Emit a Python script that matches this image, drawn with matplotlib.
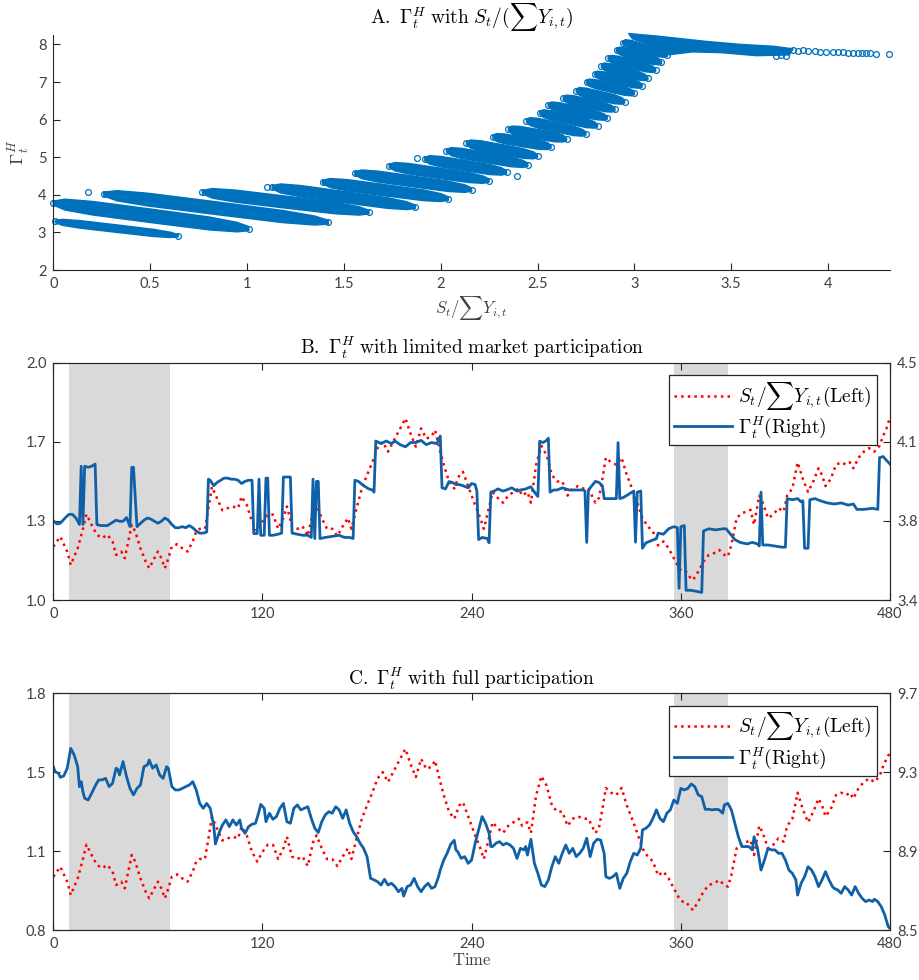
import matplotlib
matplotlib.use("Agg")
import matplotlib.pyplot as plt
import numpy as np
from matplotlib.ticker import FormatStrFormatter

plt.rcParams['mathtext.fontset'] = 'cm'
plt.rcParams['font.family'] = ['Lato', 'DejaVu Sans']

# ---- Panel A: Gamma against S/sum(Y); each dense band given by its two ends and thickness
band_x0 = [0.01, 0.00, 0.26, 0.77, 1.13, 1.39, 1.557, 1.734, 1.918, 2.03, 2.133, 2.27,
           2.35, 2.443, 2.512, 2.555, 2.633, 2.70, 2.753, 2.796, 2.83, 2.865, 2.908, 2.94]
band_y0 = [3.29, 3.78, 4.02, 4.07, 4.20, 4.34, 4.57, 4.77, 4.95, 5.17, 5.37, 5.54,
           5.74, 5.97, 6.18, 6.39, 6.57, 6.77, 7.00, 7.21, 7.43, 7.63, 7.85, 8.05]
band_x1 = [0.645, 1.01, 1.42, 1.63, 1.87, 2.04, 2.16, 2.25, 2.34, 2.45, 2.50, 2.57,
           2.65, 2.75, 2.81, 2.86, 2.90, 2.95, 3.00, 3.04, 3.07, 3.11, 3.14, 3.17]
band_y1 = [2.91, 3.10, 3.27, 3.54, 3.68, 3.90, 4.14, 4.38, 4.60, 4.80, 5.03, 5.28,
           5.48, 5.63, 5.84, 6.05, 6.27, 6.48, 6.70, 6.90, 7.10, 7.32, 7.52, 7.72]
band_w = [0.20, 0.36, 0.34, 0.32, 0.30, 0.30, 0.29, 0.28, 0.28, 0.27, 0.27, 0.26,
          0.26, 0.26, 0.25, 0.25, 0.25, 0.25, 0.24, 0.24, 0.24, 0.24, 0.24, 0.24]

# flat cluster above S/Y = 3
plateau_x = [2.97, 3.12, 3.37, 3.55, 3.72, 3.82, 3.80, 3.63, 3.45, 3.30, 3.17, 3.10, 2.99]
plateau_y = [8.29, 8.22, 8.08, 8.00, 7.95, 7.88, 7.72, 7.70, 7.78, 7.80, 7.72, 7.95, 8.15]

# isolated observations
loose_x = [0.181, 1.101, 1.88, 2.395, 3.733, 3.759, 3.785, 3.819, 3.845, 3.871, 3.897, 3.931,
           3.957, 3.991, 4.026, 4.052, 4.078, 4.103, 4.129, 4.155, 4.178, 4.198, 4.219, 4.25, 4.313]
loose_y = [4.07, 4.20, 4.99, 4.51, 7.70, 7.719, 7.692, 7.851, 7.833, 7.851, 7.824, 7.824,
           7.807, 7.807, 7.798, 7.789, 7.789, 7.78, 7.78, 7.78, 7.78, 7.771, 7.762, 7.754, 7.745]

# ---- Panels B and C: monthly series
shade_periods = [(9, 67), (356, 387)]

ratio_t = [0, 4, 8, 10, 14, 17, 19, 22, 25, 28, 31, 34, 36, 39, 41, 43, 45, 47, 50, 53, 55, 57,
           60, 62, 64, 66, 68, 71, 74, 77, 80, 82, 84, 87, 89, 91, 94, 97, 100, 103, 106, 108,
           111, 114, 117, 120, 123, 126, 129, 132, 134, 137, 140, 143, 146, 149, 151, 154, 157,
           160, 163, 166, 169, 171, 174, 177, 180, 183, 186, 189, 192, 195, 198, 202, 205, 208,
           211, 214, 217, 219, 222, 224, 227, 230, 233, 235, 238, 240, 242, 245, 247, 249, 252,
           255, 258, 261, 264, 267, 269, 272, 274, 277, 280, 283, 286, 289, 292, 295, 298, 301,
           304, 307, 309, 311, 313, 315, 317, 320, 323, 326, 329, 332, 335, 338, 341, 344, 347,
           350, 353, 356, 359, 361, 363, 365, 367, 370, 373, 376, 379, 382, 385, 387, 389, 392,
           395, 398, 400, 402, 405, 407, 410, 413, 416, 419, 421, 424, 427, 430, 433, 436, 439,
           441, 443, 446, 449, 452, 455, 457, 459, 462, 465, 468, 471, 474, 476, 478, 480]

ratio_b = [1.225, 1.267, 1.204, 1.148, 1.218, 1.30, 1.361, 1.317, 1.275, 1.261, 1.275, 1.247,
           1.19, 1.204, 1.176, 1.247, 1.317, 1.289, 1.218, 1.162, 1.134, 1.162, 1.204, 1.176,
           1.134, 1.176, 1.225, 1.235, 1.218, 1.204, 1.247, 1.289, 1.30, 1.30, 1.387, 1.477,
           1.428, 1.378, 1.387, 1.394, 1.387, 1.436, 1.40, 1.33, 1.289, 1.33, 1.36, 1.36, 1.30,
           1.345, 1.394, 1.31, 1.30, 1.31, 1.27, 1.37, 1.40, 1.345, 1.30, 1.30, 1.27, 1.31,
           1.345, 1.30, 1.387, 1.47, 1.527, 1.58, 1.64, 1.667, 1.625, 1.667, 1.71, 1.765, 1.70,
           1.646, 1.723, 1.68, 1.69, 1.716, 1.625, 1.57, 1.50, 1.47, 1.527, 1.54, 1.48, 1.44,
           1.40, 1.345, 1.30, 1.36, 1.455, 1.43, 1.41, 1.44, 1.455, 1.47, 1.44, 1.455, 1.41,
           1.57, 1.65, 1.61, 1.527, 1.50, 1.50, 1.44, 1.47, 1.48, 1.47, 1.47, 1.44, 1.41, 1.43,
           1.51, 1.60, 1.58, 1.57, 1.60, 1.527, 1.47, 1.41, 1.345, 1.31, 1.29, 1.23, 1.247,
           1.218, 1.176, 1.134, 1.12, 1.12, 1.098, 1.084, 1.12, 1.162, 1.19, 1.197, 1.211, 1.19,
           1.183, 1.232, 1.345, 1.366, 1.373, 1.38, 1.317, 1.44, 1.41, 1.345, 1.36, 1.387, 1.373,
           1.44, 1.47, 1.58, 1.51, 1.455, 1.50, 1.555, 1.527, 1.48, 1.51, 1.57, 1.58, 1.57, 1.58,
           1.555, 1.60, 1.625, 1.64, 1.625, 1.65, 1.69, 1.723, 1.77]

ratio_c = [1.025, 1.067, 1.004, 0.948, 1.018, 1.10, 1.161, 1.117, 1.075, 1.061, 1.075, 1.047,
           0.99, 1.004, 0.976, 1.047, 1.117, 1.089, 1.018, 0.962, 0.934, 0.962, 1.004, 0.976,
           0.934, 0.976, 1.025, 1.035, 1.018, 1.004, 1.047, 1.089, 1.10, 1.10, 1.187, 1.277,
           1.228, 1.178, 1.187, 1.194, 1.187, 1.236, 1.20, 1.13, 1.089, 1.13, 1.16, 1.16, 1.10,
           1.145, 1.194, 1.11, 1.10, 1.11, 1.07, 1.17, 1.20, 1.145, 1.10, 1.10, 1.07, 1.11,
           1.145, 1.10, 1.187, 1.27, 1.327, 1.38, 1.44, 1.467, 1.425, 1.467, 1.51, 1.565, 1.50,
           1.446, 1.523, 1.48, 1.49, 1.516, 1.425, 1.37, 1.30, 1.27, 1.327, 1.34, 1.28, 1.24,
           1.20, 1.145, 1.10, 1.16, 1.255, 1.23, 1.21, 1.24, 1.255, 1.27, 1.24, 1.255, 1.21,
           1.37, 1.45, 1.41, 1.327, 1.30, 1.30, 1.24, 1.27, 1.28, 1.27, 1.27, 1.24, 1.21, 1.23,
           1.31, 1.40, 1.38, 1.37, 1.40, 1.327, 1.27, 1.21, 1.145, 1.11, 1.09, 1.03, 1.047,
           1.018, 0.976, 0.934, 0.92, 0.92, 0.898, 0.884, 0.92, 0.962, 0.99, 0.997, 1.011, 0.99,
           0.983, 1.032, 1.145, 1.166, 1.173, 1.18, 1.117, 1.24, 1.21, 1.145, 1.16, 1.187, 1.173,
           1.24, 1.27, 1.38, 1.31, 1.255, 1.30, 1.355, 1.327, 1.28, 1.31, 1.37, 1.38, 1.37, 1.38,
           1.355, 1.40, 1.425, 1.44, 1.425, 1.45, 1.49, 1.523, 1.55]

gamma_b_t = [0, 2, 4, 7, 9, 11, 13, 15, 16, 17, 18, 20, 22, 24, 25, 27, 31, 33, 36, 38, 40, 42,
             44, 45, 46, 48, 50, 52, 54, 56, 58, 60, 62, 64, 66, 68, 70, 72, 74, 76, 78, 80, 82,
             84, 86, 88, 89, 90, 92, 94, 96, 98, 100, 102, 104, 106, 108, 110, 112, 114, 115,
             117, 118, 119, 121, 122, 123, 124, 126, 129, 131, 132, 136, 137, 140, 143, 146, 148,
             149, 150, 151, 152, 153, 156, 160, 164, 167, 170, 172, 173, 175, 178, 181, 183, 184,
             185, 188, 191, 194, 196, 199, 202, 205, 208, 211, 214, 217, 220, 222, 223, 225, 227,
             229, 231, 233, 235, 238, 240, 242, 243, 244, 246, 249, 250, 251, 253, 255, 258, 260,
             263, 266, 268, 271, 274, 276, 278, 279, 281, 283, 284, 285, 287, 289, 292, 296, 300,
             304, 305, 306, 307, 309, 311, 313, 315, 316, 318, 321, 323, 324, 325, 327, 330, 333,
             334, 335, 337, 338, 340, 343, 346, 347, 350, 353, 356, 358, 359, 360, 362, 363, 366,
             369, 372, 373, 376, 380, 384, 386, 388, 391, 394, 398, 401, 404, 405, 406, 407, 410,
             414, 418, 420, 421, 424, 427, 429, 430, 431, 433, 434, 437, 440, 444, 448, 452, 456,
             459, 461, 465, 470, 473, 474, 476, 480]
gamma_b = [3.768, 3.753, 3.756, 3.782, 3.797, 3.797, 3.78, 3.75, 4.02, 3.75, 4.02, 4.015, 4.02,
           4.03, 3.75, 3.745, 3.745, 3.755, 3.77, 3.765, 3.765, 3.782, 3.74, 4.015, 4.015, 3.74,
           3.755, 3.77, 3.78, 3.775, 3.765, 3.756, 3.765, 3.78, 3.77, 3.75, 3.735, 3.735, 3.74,
           3.735, 3.745, 3.735, 3.72, 3.71, 3.71, 3.715, 3.96, 3.955, 3.93, 3.945, 3.955, 3.965,
           3.965, 3.96, 3.96, 3.955, 3.94, 3.95, 3.955, 3.955, 3.708, 3.708, 3.96, 3.70, 3.70,
           3.965, 3.965, 3.70, 3.70, 3.705, 3.71, 3.97, 3.97, 3.71, 3.705, 3.70, 3.70, 3.69,
           3.96, 3.685, 3.95, 3.95, 3.685, 3.69, 3.695, 3.70, 3.69, 3.69, 3.685, 3.955, 3.95,
           3.93, 3.915, 3.91, 3.90, 4.137, 4.125, 4.137, 4.125, 4.137, 4.12, 4.11, 4.13, 4.13,
           4.14, 4.12, 4.13, 4.125, 4.16, 3.92, 3.915, 3.949, 3.945, 3.935, 3.935, 3.93, 3.92,
           3.94, 3.935, 3.905, 3.68, 3.69, 3.685, 3.665, 3.90, 3.905, 3.915, 3.905, 3.91, 3.92,
           3.905, 3.91, 3.915, 3.925, 3.90, 3.88, 4.136, 4.13, 4.14, 4.15, 3.90, 3.91, 3.91,
           3.92, 3.91, 3.91, 3.91, 3.905, 3.667, 3.91, 3.93, 3.95, 3.945, 3.93, 3.87, 3.87, 3.87,
           3.87, 4.13, 3.87, 3.875, 3.89, 3.905, 3.668, 3.90, 3.905, 3.64, 3.665, 3.675, 3.685,
           3.71, 3.705, 3.73, 3.74, 3.735, 3.454, 3.74, 3.745, 3.445, 3.445, 3.44, 3.435, 3.72,
           3.73, 3.725, 3.73, 3.73, 3.71, 3.68, 3.667, 3.66, 3.667, 3.66, 3.65, 3.90, 3.655,
           3.655, 3.65, 3.645, 3.645, 3.87, 3.865, 3.87, 3.855, 3.86, 3.64, 3.64, 3.865, 3.87,
           3.86, 3.85, 3.845, 3.85, 3.84, 3.845, 3.82, 3.82, 3.825, 3.82, 4.06, 4.065, 4.03]

gamma_c_t = [0, 1, 3, 4, 6, 8, 10, 12, 14, 15, 16, 17, 18, 20, 22, 24, 26, 28, 30, 32, 34, 36,
             37, 38, 40, 42, 44, 46, 48, 50, 52, 54, 55, 57, 59, 61, 63, 65, 66, 68, 70, 72, 74,
             76, 78, 80, 82, 84, 86, 88, 90, 92, 93, 95, 97, 99, 101, 103, 105, 107, 108, 110,
             112, 114, 116, 118, 119, 121, 122, 124, 126, 128, 130, 132, 134, 136, 138, 140, 142,
             144, 146, 148, 150, 152, 154, 156, 158, 160, 162, 164, 166, 168, 170, 172, 174, 176,
             178, 180, 182, 184, 186, 188, 190, 192, 194, 196, 198, 200, 201, 203, 205, 207, 209,
             211, 213, 215, 217, 219, 221, 222, 224, 226, 228, 230, 231, 232, 234, 236, 238, 240,
             242, 244, 246, 248, 250, 251, 252, 254, 256, 258, 260, 262, 264, 266, 268, 270, 271,
             272, 274, 276, 278, 280, 282, 284, 286, 288, 290, 292, 294, 296, 298, 300, 302, 304,
             306, 308, 310, 312, 314, 316, 317, 319, 321, 323, 325, 327, 329, 331, 333, 335, 337,
             338, 340, 342, 344, 346, 348, 350, 352, 354, 356, 358, 360, 362, 364, 366, 368, 370,
             372, 374, 376, 378, 380, 382, 384, 385, 387, 389, 391, 393, 395, 397, 399, 401, 402,
             404, 406, 408, 410, 412, 414, 416, 418, 420, 422, 424, 426, 427, 429, 431, 433, 435,
             437, 439, 441, 443, 445, 447, 448, 450, 452, 454, 456, 458, 460, 462, 464, 466, 468,
             470, 471, 473, 475, 477, 479, 480]
gamma_c = [9.328, 9.303, 9.294, 9.274, 9.281, 9.320, 9.421, 9.387, 9.328, 9.227, 9.252, 9.201,
           9.168, 9.159, 9.193, 9.230, 9.261, 9.261, 9.269, 9.227, 9.244, 9.320, 9.315, 9.286,
           9.354, 9.278, 9.218, 9.185, 9.218, 9.235, 9.328, 9.337, 9.362, 9.320, 9.337, 9.286,
           9.269, 9.328, 9.320, 9.227, 9.210, 9.210, 9.218, 9.227, 9.235, 9.252, 9.210, 9.142,
           9.117, 9.142, 9.117, 9.032, 8.936, 8.990, 9.032, 9.058, 9.024, 9.058, 9.032, 9.058,
           9.016, 8.990, 9.024, 9.036, 9.041, 9.100, 9.137, 9.117, 9.049, 9.092, 9.061, 9.075,
           9.117, 9.142, 9.049, 9.041, 9.117, 9.134, 9.109, 9.117, 9.125, 9.066, 9.016, 8.994,
           9.049, 9.083, 9.100, 9.092, 9.125, 9.109, 9.066, 9.109, 9.041, 8.999, 8.973, 8.940,
           8.914, 8.872, 8.762, 8.754, 8.745, 8.728, 8.757, 8.728, 8.737, 8.720, 8.694, 8.711,
           8.672, 8.720, 8.728, 8.762, 8.720, 8.694, 8.720, 8.737, 8.711, 8.720, 8.770, 8.804,
           8.855, 8.890, 8.935, 8.955, 8.906, 8.897, 8.863, 8.872, 8.838, 8.855, 8.940, 9.007,
           9.075, 9.041, 8.990, 8.923, 8.923, 8.940, 8.948, 8.931, 8.940, 8.931, 8.914, 8.863,
           8.914, 8.906, 8.923, 8.880, 8.960, 8.838, 8.787, 8.728, 8.720, 8.754, 8.821, 8.872,
           8.838, 8.889, 8.931, 8.889, 8.914, 8.872, 8.889, 8.914, 8.965, 8.872, 8.940, 8.960,
           8.956, 8.889, 8.770, 8.762, 8.770, 8.787, 8.711, 8.762, 8.787, 8.847, 8.889, 8.880,
           8.914, 9.007, 9.016, 9.032, 9.066, 9.109, 9.066, 9.049, 9.092, 9.109, 9.159, 9.142,
           9.218, 9.210, 9.218, 9.240, 9.227, 9.185, 9.176, 9.112, 9.112, 9.109, 9.112, 9.109,
           9.092, 9.134, 9.142, 9.109, 9.041, 8.973, 8.923, 8.923, 8.923, 8.906, 8.973, 8.914,
           8.804, 8.855, 8.914, 8.906, 8.906, 8.889, 8.889, 8.855, 8.804, 8.787, 8.754, 8.677,
           8.737, 8.770, 8.821, 8.804, 8.770, 8.720, 8.754, 8.796, 8.754, 8.720, 8.711, 8.703,
           8.686, 8.720, 8.703, 8.677, 8.720, 8.686, 8.661, 8.644, 8.652, 8.644, 8.656, 8.644,
           8.618, 8.576, 8.517, 8.508]

DOT_BLUE = '#0072BD'
LINE_BLUE = '#1060A8'
AX_COLOR = '#262626'
TXT_COLOR = '#404040'
W, H = 919, 980


def style_axis(ax, box=True):
    for side, sp in ax.spines.items():
        sp.set_color(AX_COLOR)
        sp.set_linewidth(0.8)
    if not box:
        ax.spines['top'].set_visible(False)
        ax.spines['right'].set_visible(False)
    ax.tick_params(direction='in', length=5, width=0.8, color=AX_COLOR,
                   labelcolor=TXT_COLOR, labelsize=10.5, pad=5,
                   top=box, right=False)


def band_outline(x0, y0, x1, y1, w):
    # lens-shaped strip around the line joining the two ends of a band
    f = np.array([0.0, 0.06, 0.2, 0.5, 0.8, 0.94, 1.0])
    hw = np.array([0.3, 0.8, 1.0, 1.0, 0.95, 0.7, 0.3]) * w / 2
    xc = x0 + f * (x1 - x0)
    yc = y0 + f * (y1 - y0)
    return (np.concatenate([xc, xc[::-1]]),
            np.concatenate([yc + hw, (yc - hw)[::-1]]))


fig = plt.figure(figsize=(W / 100, H / 100), dpi=100)
left = 53.3 / W
width = 836.7 / W

# ---------------- Panel A
axA = fig.add_axes([left, 1 - 270 / H, width, 235 / H])
for x0, y0, x1, y1, w in zip(band_x0, band_y0, band_x1, band_y1, band_w):
    xs, ys = band_outline(x0, y0, x1, y1, w)
    axA.fill(xs, ys, color=DOT_BLUE, ec=DOT_BLUE, lw=1.0, clip_on=False)
axA.fill(plateau_x, plateau_y, color=DOT_BLUE, ec=DOT_BLUE, lw=1.0, clip_on=False)
axA.plot(band_x0 + band_x1, band_y0 + band_y1, 'o', mfc='none', mec=DOT_BLUE,
         ms=4.2, mew=0.9, ls='none', clip_on=False)
axA.plot(loose_x, loose_y, 'o', mfc='none', mec=DOT_BLUE, ms=4.2, mew=0.9,
         ls='none', clip_on=False)
axA.set_xlim(0, 4.32)
axA.set_ylim(2, 8.25)
axA.set_xticks(np.arange(0, 4.01, 0.5))
axA.set_xticklabels(['0', '0.5', '1', '1.5', '2', '2.5', '3', '3.5', '4'])
axA.set_yticks(range(2, 9))
style_axis(axA, box=False)
axA.set_xlabel(r'$S_t/\sum Y_{i,t}$', fontsize=12, color=TXT_COLOR, labelpad=2)
axA.set_ylabel(r'$\Gamma_t^H$', fontsize=13, color=TXT_COLOR, labelpad=4)
axA.set_title(r'$\mathrm{A.}\ \Gamma_t^H\ \mathrm{with}\ S_t/(\sum Y_{i,t})$',
              fontsize=14, pad=8)


def time_panel(rect, ratio, lo_l, hi_l, gt, gv, lo_r, hi_r, title, xlabel=None):
    ax = fig.add_axes(rect)
    for a, b in shade_periods:
        ax.axvspan(a, b, color='#d9d9d9', lw=0, zorder=0)
    h1, = ax.plot(ratio_t, ratio, ls=':', color='red', lw=1.8)
    ax.set_xlim(0, 480)
    ax.set_ylim(lo_l, hi_l)
    ax.set_xticks([0, 120, 240, 360, 480])
    ax.set_yticks(np.linspace(lo_l, hi_l, 4))
    ax.yaxis.set_major_formatter(FormatStrFormatter('%.1f'))
    style_axis(ax)

    ax2 = ax.twinx()
    h2, = ax2.plot(gt, gv, color=LINE_BLUE, lw=2.0)
    ax2.set_ylim(lo_r, hi_r)
    ax2.set_yticks(np.linspace(lo_r, hi_r, 4))
    ax2.yaxis.set_major_formatter(FormatStrFormatter('%.1f'))
    for sp in ax2.spines.values():
        sp.set_color(AX_COLOR)
        sp.set_linewidth(0.8)
    ax2.tick_params(direction='in', length=5, width=0.8, color=AX_COLOR,
                    labelcolor=TXT_COLOR, labelsize=10.5, pad=5)

    leg = ax2.legend([h1, h2],
                     [r'$S_t/\sum Y_{i,t}\mathrm{(Left)}$', r'$\Gamma_t^H\mathrm{(Right)}$'],
                     loc='upper right', bbox_to_anchor=(0.984, 0.948), borderaxespad=0,
                     fontsize=14, fancybox=False, framealpha=1, edgecolor=AX_COLOR,
                     handlelength=3.0, handletextpad=0.3, labelspacing=0.15,
                     borderpad=0.25)
    leg.get_frame().set_linewidth(0.9)
    ax.set_title(title, fontsize=14, pad=6)
    if xlabel:
        ax.set_xlabel(xlabel, fontsize=12, color=TXT_COLOR, labelpad=1)
    return ax, ax2


time_panel([left, 1 - 600 / H, width, 237.3 / H], ratio_b, 1.0, 2.0,
           gamma_b_t, gamma_b, 3.4, 4.5,
           r'$\mathrm{B.}\ \Gamma_t^H\ \mathrm{with\ limited\ market\ participation}$')
time_panel([left, 1 - 930 / H, width, 236.7 / H], ratio_c, 0.8, 1.8,
           gamma_c_t, gamma_c, 8.5, 9.7,
           r'$\mathrm{C.}\ \Gamma_t^H\ \mathrm{with\ full\ participation}$',
           xlabel=r'$\mathrm{Time}$')

fig.savefig('out.png', dpi=100)
